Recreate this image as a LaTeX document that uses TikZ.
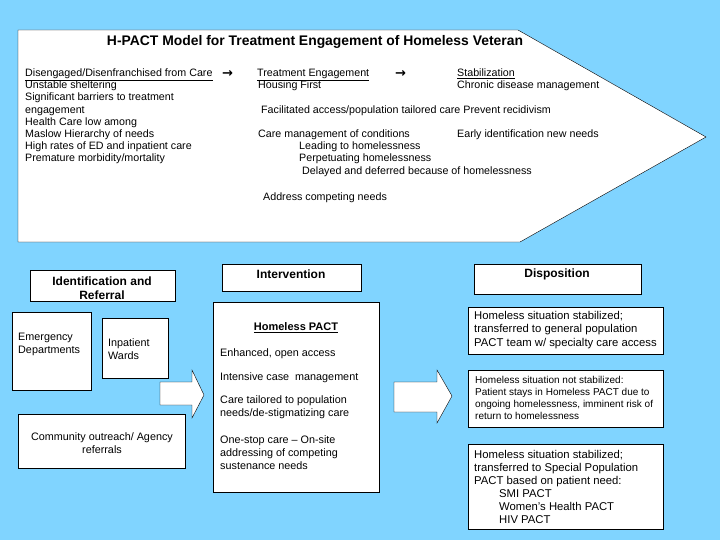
\documentclass[tikz,border=0pt]{standalone}
\usepackage{fontspec}
\setmainfont{Liberation Sans}
\newfontfamily\arrowfont{DejaVu Sans}
\usepackage{xcolor}
\definecolor{slidesky}{RGB}{128,212,255}

\begin{document}
\begin{tikzpicture}[x=1pt,y=-1pt,thin,
  box/.style={draw,fill=white,inner sep=0pt,anchor=north west},
  small/.style={anchor=base west,inner sep=0pt,font=\fontsize{10.7}{12}\selectfont},
  body/.style={anchor=north west,inner sep=0pt,align=left,font=\fontsize{10.8}{13.3}\selectfont},
  wide/.style={anchor=north west,inner sep=0pt,align=left,font=\fontsize{11.3}{13.4}\selectfont},
  tiny/.style={anchor=north west,inner sep=0pt,align=left,font=\fontsize{10}{12}\selectfont},
  head/.style={inner sep=0pt,align=center,font=\bfseries\fontsize{12}{14.5}\selectfont},
  fatarrow/.style={draw,fill=white}]

            \fill[slidesky] (0,0) rectangle (720,540);
            \useasboundingbox (0,0) rectangle (720,540);

            \draw[fill=white] (18,30) -- (518,30) -- (706,137) -- (520,242) -- (18,242) -- cycle;
            \node[head,font=\bfseries\fontsize{13.9}{16}\selectfont] (title) at (315,42) {H-PACT Model for Treatment Engagement of Homeless Veteran};

            \node[small] (dis1) at (25,77) {\underline{Disengaged/Disenfranchised from Care}};
            \node[small] (dis2) at (25,89) {Unstable sheltering};
            \node[small] (dis3) at (25,101) {Significant barriers to treatment};
            \node[small] (dis4) at (25,114) {engagement};
            \node[small] (dis5) at (25,126) {Health Care low among};
            \node[small] (dis6) at (25,138) {Maslow Hierarchy of needs};
            \node[small] (dis7) at (25,150) {High rates of ED and inpatient care};
            \node[small] (dis8) at (25,162) {Premature morbidity/mortality};

            \node[small] (go1) at (222,77.5) {\arrowfont\bfseries\fontsize{13}{13}\selectfont →};
            \node[small] (eng1) at (257,77) {\underline{Treatment Engagement}};
            \node[small] (eng2) at (258,89) {Housing First};
            \node[small] (eng3) at (261,114) {Facilitated access/population tailored care Prevent recidivism};
            \node[small] (eng4) at (258,138) {Care management of conditions};
            \node[small] (eng5) at (299,150) {Leading to homelessness};
            \node[small] (eng6) at (299,162) {Perpetuating homelessness};
            \node[small] (eng7) at (302,175) {Delayed and deferred because of homelessness};
            \node[small] (eng8) at (263,201) {Address competing needs};

            \node[small] (go2) at (395,77.5) {\arrowfont\bfseries\fontsize{13}{13}\selectfont →};
            \node[small] (stab1) at (457,77) {\underline{Stabilization}};
            \node[small] (stab2) at (457,89) {Chronic disease management};
            \node[small] (stab3) at (457,138) {Early identification new needs};

            \node[box,minimum width=145pt,minimum height=31pt] (ident) at (30,270) {};
            \node[head] (identt) at (102,288) {Identification and\\Referral};
            \node[box,minimum width=79pt,minimum height=78pt] (ed) at (12,312) {};
            \node[body] (edt) at (18,333) {Emergency\\Departments};
            \node[box,minimum width=66pt,minimum height=60pt] (ward) at (102,318) {};
            \node[body] (wardt) at (108,338.5) {Inpatient\\Wards};
            \node[box,minimum width=167pt,minimum height=54pt] (comm) at (18,414) {};
            \node[body,anchor=north,align=center] (commt) at (102,432) {Community outreach/ Agency\\referrals};

            \draw[fatarrow] (160,382) -- (192,382) -- (192,370) -- (204,395) -- (192,418) -- (192,405) -- (160,405) -- cycle;

            \node[box,minimum width=139pt,minimum height=27pt] (interv) at (222,264) {};
            \node[head] (intervt) at (291,274.5) {Intervention};
            \node[box,minimum width=166pt,minimum height=190pt] (hpact) at (213,302) {};
            \node[head,font=\bfseries\fontsize{11}{14}\selectfont] (hpactt) at (296,328) {\underline{Homeless PACT}};
            \node[body,anchor=base west] (hp1) at (220,356) {Enhanced, open access};
            \node[body,anchor=base west] (hp2) at (220,380) {Intensive case\ \ management};
            \node[body] (hp3) at (220,395) {Care tailored to population\\needs/de-stigmatizing care};
            \node[body] (hp4) at (220,435) {One-stop care -- On-site\\addressing of competing\\sustenance needs};

            \draw[fatarrow] (394,382) -- (437,382) -- (437,370) -- (452,396) -- (437,423) -- (437,412) -- (394,412) -- cycle;

            \node[box,minimum width=167pt,minimum height=30pt] (dispo) at (474,264) {};
            \node[head] (dispot) at (557,274.5) {Disposition};
            \node[box,minimum width=195pt,minimum height=47pt] (gen) at (468,307) {};
            \node[wide] (gent) at (474,311) {Homeless situation stabilized;\\transferred to general population\\PACT team w/ specialty care access};
            \node[box,minimum width=195pt,minimum height=57pt] (stay) at (468,370) {};
            \node[tiny] (stayt) at (475,376.5) {Homeless situation not stabilized:\\Patient stays in Homeless PACT due to\\ongoing homelessness, imminent risk of\\return to homelessness};
            \node[box,minimum width=195pt,minimum height=85pt] (spec) at (468,444) {};
            \node[wide,font=\fontsize{11.3}{13}\selectfont] (spect) at (474,450) {Homeless situation stabilized;\\transferred to Special Population\\PACT based on patient need:\\\hspace{25pt}SMI PACT\\\hspace{25pt}Women's Health PACT\\\hspace{25pt}HIV PACT};

            ;
        \end{tikzpicture}
\end{document}
